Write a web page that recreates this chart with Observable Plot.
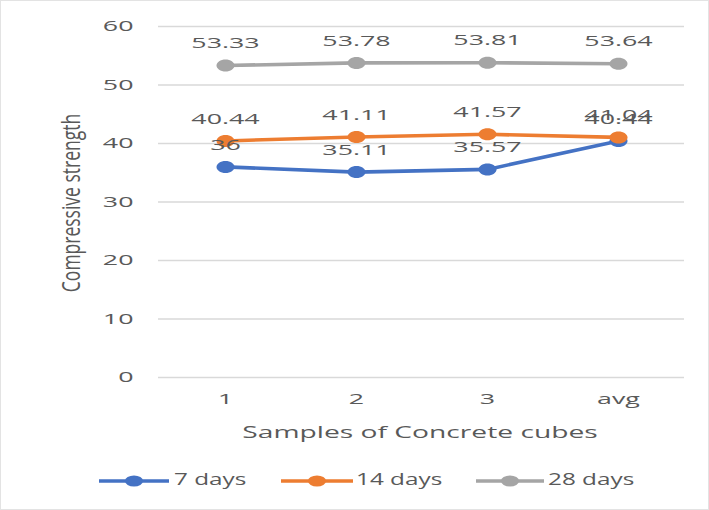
<!DOCTYPE html>
<html><head><meta charset="utf-8">
<script src="https://cdn.jsdelivr.net/npm/d3@7"></script>
<script src="https://cdn.jsdelivr.net/npm/@observablehq/plot@0.6"></script>
<style>
body{margin:0;background:#fff;font-family:"Open Sans",sans-serif;}
#wrap{position:relative;width:707px;height:508px;border:1px solid #e3e3e3;overflow:hidden;}
#chart svg, #legend svg{display:block;}
</style></head>
<body>
<div id="wrap"><div id="chart"></div><div id="legend"></div></div>
<script>
const samples = ["1","2","3","avg"];
const days7 = [36, 35.11, 35.57, 40.44];
const days14 = [40.44, 41.11, 41.57, 41.04];
const days28 = [53.33, 53.78, 53.81, 53.64];
const seriesNames = ["7 days","14 days","28 days"];
const colors = ["#4472C4","#ED7D31","#A5A5A5"];
const yTicks = [0,10,20,30,40,50,60];

const seriesVals = [days7, days14, days28];
const data = seriesNames.flatMap((s,i)=>samples.map((c,j)=>({series:s, sample:c, value:seriesVals[i][j]})));

// ellipse-shaped marker (the reference is horizontally stretched)
const ellipse = {draw(ctx, size){
  const r = Math.sqrt(size/Math.PI), rx = r*1.5, ry = r, k = 0.5523;
  ctx.moveTo(rx,0);
  ctx.bezierCurveTo(rx, ry*k, rx*k, ry, 0, ry);
  ctx.bezierCurveTo(-rx*k, ry, -rx, ry*k, -rx, 0);
  ctx.bezierCurveTo(-rx, -ry*k, -rx*k, -ry, 0, -ry);
  ctx.bezierCurveTo(rx*k, -ry, rx, -ry*k, rx, 0);
  ctx.closePath();
}};

const W = 707, H = 455, SX = 1.85;
const labelMarks = seriesNames.map((s,i)=>Plot.text(data.filter(d=>d.series===s),{
  x:"sample", y:"value", text:d=>String(d.value), dy:-22, fill:"#595959", fontSize:14.5
}));
const chart = Plot.plot({
  width: W, height: H,
  marginLeft: 157, marginRight: 24, marginTop: 25, marginBottom: 79,
  style:{fontFamily:"Open Sans, sans-serif", fontSize:"14.5px", color:"#595959", background:"transparent"},
  x:{type:"point", domain:samples, padding:0.5, label:null},
  y:{domain:[0,60], label:null},
  color:{domain:seriesNames, range:colors},
  marks:[
    Plot.ruleY(yTicks,{stroke:"#d9d9d9", strokeWidth:1.3}),
    Plot.axisY({ticks:yTicks, tickSize:0, tickPadding:25, label:null, fill:"#595959", fontSize:14.5}),
    Plot.axisX({tickSize:0, tickPadding:16, label:null, fill:"#595959", fontSize:14.5}),
    Plot.line(data,{x:"sample", y:"value", stroke:"series", strokeWidth:3.6, z:"series"}),
    Plot.dot(data,{x:"sample", y:"value", fill:"series", r:6, symbol:ellipse}),
    ...labelMarks
  ]
});
document.getElementById("chart").appendChild(chart);
const svg = d3.select(chart);
// stretch all tick/data texts horizontally around their anchor
svg.selectAll("text").each(function(){
  const t = d3.select(this).attr("transform") || "";
  d3.select(this).attr("transform", (t + ` scale(${SX},1)`).trim());
});
svg.append("text").attr("transform","translate(72,202) scale(1.45,1) rotate(-90)")
  .attr("text-anchor","middle").attr("dominant-baseline","middle")
  .attr("fill","#595959").style("font-size","17.5px").style("font-family","Open Sans, sans-serif")
  .text("Compressive strength");
svg.append("text").attr("transform","translate(419,432) scale(1.66,1)")
  .attr("text-anchor","middle").attr("dominant-baseline","middle")
  .attr("fill","#595959").style("font-size","17px").style("font-family","Open Sans, sans-serif")
  .text("Samples of Concrete cubes");

// legend below the chart
const lines = [[98,168],[280,352],[475,543]];
const textX = [173, 355, 547];
const lsvg = d3.select("#legend").append("svg").attr("width",W).attr("height",53);
const ly = 25;
seriesNames.forEach((s,i)=>{
  const [a,b] = lines[i];
  lsvg.append("line").attr("x1",a).attr("x2",b).attr("y1",ly).attr("y2",ly)
    .attr("stroke",colors[i]).attr("stroke-width",3.6);
  lsvg.append("ellipse").attr("cx",(a+b)/2).attr("cy",ly).attr("rx",9).attr("ry",5.5).attr("fill",colors[i]);
  lsvg.append("text").attr("transform",`translate(${textX[i]},${ly}) scale(1.52,1)`)
    .attr("dominant-baseline","middle").attr("fill","#595959")
    .style("font-size","16px").style("font-family","Open Sans, sans-serif").text(s);
});
</script>
</body></html>
